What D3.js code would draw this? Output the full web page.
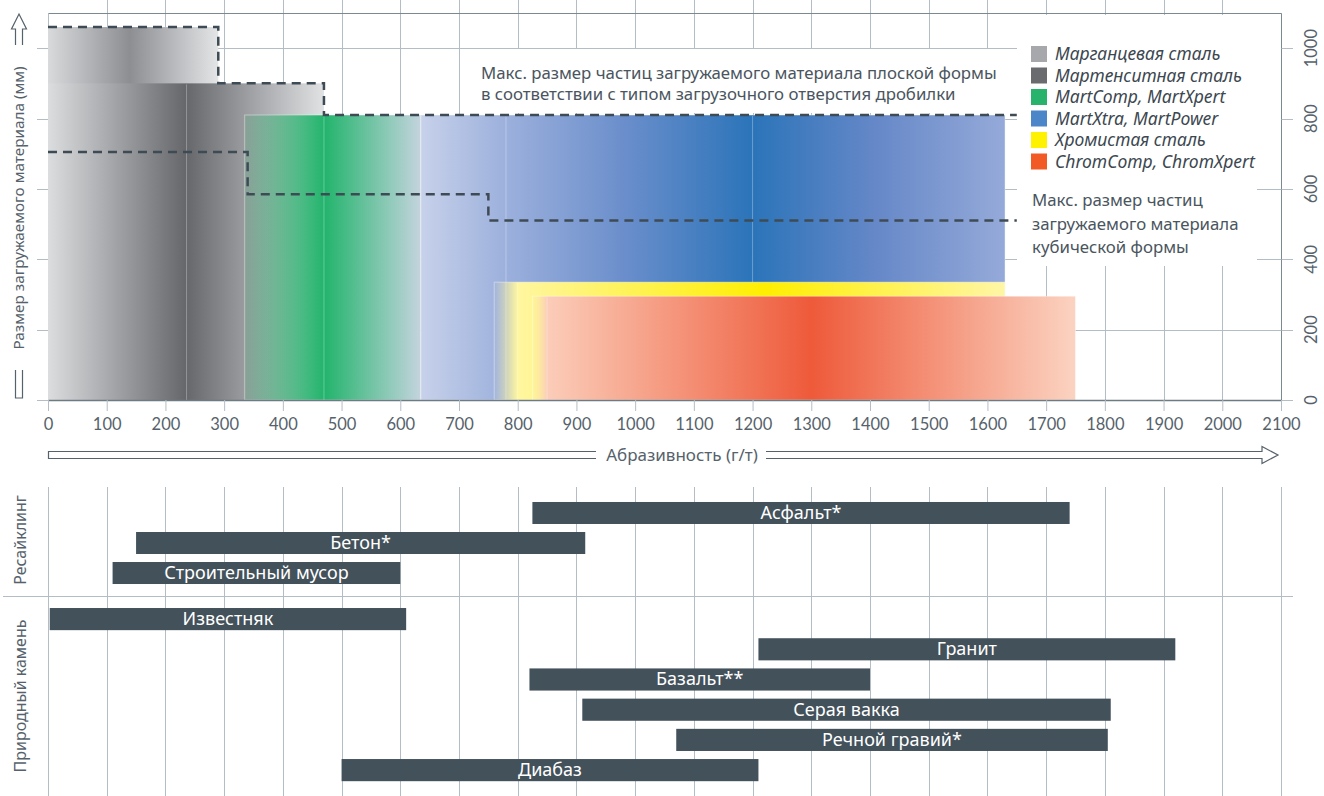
<!DOCTYPE html>
<html>
<head>
<meta charset="utf-8">
<script src="https://cdn.jsdelivr.net/npm/d3@7"></script>
<style>
  body { margin: 0; background: #fff; }
  svg { display: block; font-family: "Noto Sans", sans-serif; }
</style>
</head>
<body>
<svg id="chart" width="1324" height="796"></svg>
<script>
// ticks
const xTicks = d3.range(0, 2101, 100);
const yTicks = [0, 200, 400, 600, 800, 1000];

// wear part materials (abrasiveness range, max feed size)
const steelNames = ["Марганцевая сталь", "Мартенситная сталь", "MartComp, MartXpert", "MartXtra, MartPower", "Хромистая сталь", "ChromComp, ChromXpert"];
const steelFrom = [0, 0, 335, 635, 760, 825];
const steelTo = [290, 470, 635, 1630, 1630, 1750];
const steelMax = [1060, 900, 810, 810, 335, 295];
const steelSeams = [[], [236], [470], [780, 1200], [800], [850]];
const steelSwatch = ["#a7a8ac", "#6a6b6f", "#27b36c", "#4a86c8", "#fff200", "#f15a24"];
// gradient stops: offset, colour, opacity
const steelStops = [
    [[0, "#d9dadc", 1], [0.48, "#8d8e92", 1], [1, "#e4e5e7", 1]],
    [[0, "#dcdddf", 1], [0.5, "#66676b", 1], [1, "#e1e2e4", 1]],
    [[0, "#22b46c", 0.15], [0.45, "#22b46c", 1], [1, "#c4d4de", 1]],
    [[0, "#c7d1ea", 1], [0.146, "#9cb0dc", 1], [0.35, "#6a8ecb", 1], [0.568, "#2b74b9", 1], [0.78, "#6688c8", 1], [1, "#95aad9", 1]],
    [[0, "#fff6a0", 0], [0.046, "#fff6a0", 1], [0.53, "#ffee00", 1], [1, "#fff6a6", 1]],
    [[0, "#fde3b0", 0], [0.027, "#fbcdb9", 1], [0.514, "#ee5a3a", 1], [1, "#fbd3c1", 1]]
];

// max feed size lines (step)
const flatX = [0, 290, 470, 1650];
const flatY = [1060, 900, 810, 810];
const cubicX = [0, 340, 750, 1650];
const cubicY = [705, 585, 510, 510];

// materials to crush
const recycleNames = ["Асфальт*", "Бетон*", "Строительный мусор"];
const recycleFrom = [825, 150, 110];
const recycleTo = [1740, 915, 600];
const rockNames = ["Известняк", "Гранит", "Базальт**", "Серая вакка", "Речной гравий*", "Диабаз"];
const rockFrom = [3, 1210, 820, 910, 1070, 500];
const rockTo = [610, 1920, 1400, 1810, 1805, 1210];

const gridColor = "#b3bdc5";
const textColor = "#56626b";

let svg = d3.select("#chart");

let x = d3.scaleLinear().domain([0, 2100]).range([48, 1281]);
let y = d3.scaleLinear().domain([0, 1100]).range([400, 13]);
let px = v => Math.round(x(v)) + 0.5;
let py = v => Math.round(y(v)) + 0.5;

//grid top chart
svg.append("g").selectAll("line")
    .data(xTicks)
    .enter()
    .append("line")
    .attr("x1", d => px(d)).attr("x2", d => px(d))
    .attr("y1", d => (d == 0 || d == 2100) ? py(1100) : 0)
    .attr("y2", 400)
    .attr("stroke", gridColor);

svg.append("g").selectAll("line")
    .data(yTicks)
    .enter()
    .append("line")
    .attr("x1", 37).attr("x2", 1293)
    .attr("y1", d => py(d)).attr("y2", d => py(d))
    .attr("stroke", gridColor);

// frame
svg.append("path")
    .attr("d", "M" + px(0) + "," + py(1100) + "H" + px(2100) + "V" + py(0))
    .attr("fill", "none")
    .attr("stroke", "#7d8990");

// gradients
let defs = svg.append("defs");
steelStops.forEach(function(stops, i) {
    let grad = defs.append("linearGradient")
        .attr("id", "steel" + i)
        .attr("x1", 0).attr("x2", 1).attr("y1", 0).attr("y2", 0);
    grad.selectAll("stop")
        .data(stops)
        .enter()
        .append("stop")
        .attr("offset", d => d[0])
        .attr("stop-color", d => d[1])
        .attr("stop-opacity", d => d[2]);
});

// steel bands
let bands = svg.append("g").selectAll("g")
    .data(steelNames)
    .enter()
    .append("g");

bands.append("rect")
    .attr("x", (d, i) => x(steelFrom[i]))
    .attr("y", (d, i) => y(steelMax[i]))
    .attr("width", (d, i) => x(steelTo[i]) - x(steelFrom[i]))
    .attr("height", (d, i) => y(0) - y(steelMax[i]))
    .attr("fill", (d, i) => "url(#steel" + i + ")")
    .attr("stroke", (d, i) => i < 2 ? "none" : "rgba(255,255,255,0.4)")
    .attr("stroke-width", 1);

bands.each(function(d, i) {
    d3.select(this).selectAll("line")
        .data(steelSeams[i])
        .enter()
        .append("line")
        .attr("x1", s => x(s)).attr("x2", s => x(s))
        .attr("y1", y(steelMax[i]) + 1).attr("y2", y(0))
        .attr("stroke", "rgba(255,255,255,0.3)");
});

// x axis line
svg.append("line")
    .attr("x1", px(0)).attr("x2", px(2100))
    .attr("y1", py(0)).attr("y2", py(0))
    .attr("stroke", "#6f7b83")
    .attr("stroke-width", 1.5);

// white panels behind notes
svg.append("rect").attr("x", 468).attr("y", 49).attr("width", 550).attr("height", 64).attr("fill", "#fff");
svg.append("rect").attr("x", 1017).attr("y", 15).attr("width", 264).attr("height", 166).attr("fill", "#fff");
svg.append("rect").attr("x", 1017).attr("y", 180).attr("width", 240).attr("height", 86).attr("fill", "#fff");

// dashed max-size lines
let stepLine = d3.line()
    .x(d => x(d[0]))
    .y(d => y(d[1]))
    .curve(d3.curveStepAfter);

svg.append("path")
    .attr("d", stepLine(d3.zip(flatX, flatY)))
    .attr("fill", "none")
    .attr("stroke", "#3f4b54")
    .attr("stroke-width", 2.5)
    .attr("stroke-dasharray", "9,6");

svg.append("path")
    .attr("d", stepLine(d3.zip(cubicX, cubicY)))
    .attr("fill", "none")
    .attr("stroke", "#3f4b54")
    .attr("stroke-width", 2.5)
    .attr("stroke-dasharray", "9,6");

// notes
let flatNote = svg.append("text")
    .attr("x", 481).attr("y", 79)
    .style("font-size", "16.8px")
    .attr("fill", "#4a555e");
flatNote.append("tspan").attr("x", 481).text("Макс. размер частиц загружаемого материала плоской формы");
flatNote.append("tspan").attr("x", 481).attr("dy", 21).text("в соответствии с типом загрузочного отверстия дробилки");

let cubicNote = svg.append("text")
    .attr("x", 1032).attr("y", 206)
    .style("font-size", "16.8px")
    .attr("fill", "#4a555e");
["Макс. размер частиц", "загружаемого материала", "кубической формы"].forEach(function(t, i) {
    cubicNote.append("tspan").attr("x", 1032).attr("dy", i == 0 ? 0 : 23.5).text(t);
});

// legend
let legend = svg.append("g").selectAll("g")
    .data(steelNames)
    .enter()
    .append("g")
    .attr("transform", (d, i) => "translate(1031," + (46 + i * 21.5) + ")");

legend.append("rect")
    .attr("width", 16).attr("height", 16)
    .attr("fill", (d, i) => steelSwatch[i]);

legend.append("text")
    .attr("x", 24).attr("y", 14)
    .style("font-size", "17.5px")
    .style("font-style", "italic")
    .attr("fill", "#3c4750")
    .text(d => d);

// axes
let xAxis = svg.append("g")
    .attr("transform", "translate(0,400)")
    .call(d3.axisBottom(x).tickValues(xTicks).tickFormat(d3.format("d")).tickSize(11).tickPadding(7));
xAxis.select(".domain").remove();
xAxis.selectAll("line").attr("stroke", gridColor);
xAxis.selectAll("text")
    .style("font-size", "16.5px")
    .style("font-family", "Lato, sans-serif")
    .attr("fill", textColor);

// right labels rotated
svg.append("g").selectAll("line")
    .data(yTicks)
    .enter()
    .append("line")
    .attr("x1", px(2100)).attr("x2", 1293)
    .attr("y1", d => py(d)).attr("y2", d => py(d))
    .attr("stroke", gridColor);

svg.append("g").selectAll("text")
    .data(yTicks)
    .enter()
    .append("text")
    .attr("transform", d => "translate(1317," + y(d) + ") rotate(-90)")
    .attr("text-anchor", "middle")
    .style("font-size", "16.5px")
    .style("font-family", "Lato, sans-serif")
    .attr("fill", textColor)
    .text(d => d);

// axis titles with hollow arrows
svg.append("text")
    .attr("transform", "translate(24," + 208 + ") rotate(-90)")
    .attr("text-anchor", "middle")
    .style("font-size", "15.3px")
    .attr("fill", textColor)
    .text("Размер загружаемого материала (мм)");

svg.append("path")
    .attr("d", "M15.5,45V29H11.5L19,14L26.5,29H22.5V45")
    .attr("fill", "none").attr("stroke", textColor).attr("stroke-width", 1.2);
svg.append("path")
    .attr("d", "M15.5,370V398H22.5V370")
    .attr("fill", "none").attr("stroke", textColor).attr("stroke-width", 1.2);

svg.append("text")
    .attr("x", 682).attr("y", 461)
    .attr("text-anchor", "middle")
    .style("font-size", "17px")
    .attr("fill", textColor)
    .text("Абразивность (г/т)");

svg.append("path")
    .attr("d", "M596,451.5H48.5V458.5H596")
    .attr("fill", "none").attr("stroke", textColor).attr("stroke-width", 1.2);
svg.append("path")
    .attr("d", "M766,451.5H1262V446.5L1278,455L1262,463.5V458.5H766")
    .attr("fill", "none").attr("stroke", textColor).attr("stroke-width", 1.2);

// ---- lower chart: materials ----
svg.append("g").selectAll("line")
    .data(xTicks)
    .enter()
    .append("line")
    .attr("x1", d => px(d)).attr("x2", d => px(d))
    .attr("y1", 487).attr("y2", 796)
    .attr("stroke", gridColor);

svg.append("line")
    .attr("x1", 3).attr("x2", 1293)
    .attr("y1", 596.5).attr("y2", 596.5)
    .attr("stroke", gridColor);

let yRecycle = d3.scaleBand().domain(recycleNames).range([498, 588]).paddingInner(0.267).paddingOuter(0.133);
let yRock = d3.scaleBand().domain(rockNames).range([604, 785.2]).paddingInner(0.267).paddingOuter(0.133);

function drawRows(names, from, to, scale) {
    let rows = svg.append("g").selectAll("g")
        .data(names)
        .enter()
        .append("g");

    rows.append("rect")
        .attr("x", (d, i) => x(from[i]))
        .attr("y", d => scale(d))
        .attr("width", (d, i) => x(to[i]) - x(from[i]))
        .attr("height", scale.bandwidth())
        .attr("fill", "#43515b");

    rows.append("text")
        .attr("x", (d, i) => (x(from[i]) + x(to[i])) / 2)
        .attr("y", d => scale(d) + scale.bandwidth() / 2 + 6)
        .attr("text-anchor", "middle")
        .style("font-size", "18px")
        .attr("fill", "#fff")
        .text(d => d);
}

drawRows(recycleNames, recycleFrom, recycleTo, yRecycle);
drawRows(rockNames, rockFrom, rockTo, yRock);

svg.append("text")
    .attr("transform", "translate(26,540) rotate(-90)")
    .attr("text-anchor", "middle")
    .style("font-size", "16px")
    .attr("fill", textColor)
    .text("Ресайклинг");

svg.append("text")
    .attr("transform", "translate(26,696) rotate(-90)")
    .attr("text-anchor", "middle")
    .style("font-size", "16px")
    .attr("fill", textColor)
    .text("Природный камень");
</script>
</body>
</html>
